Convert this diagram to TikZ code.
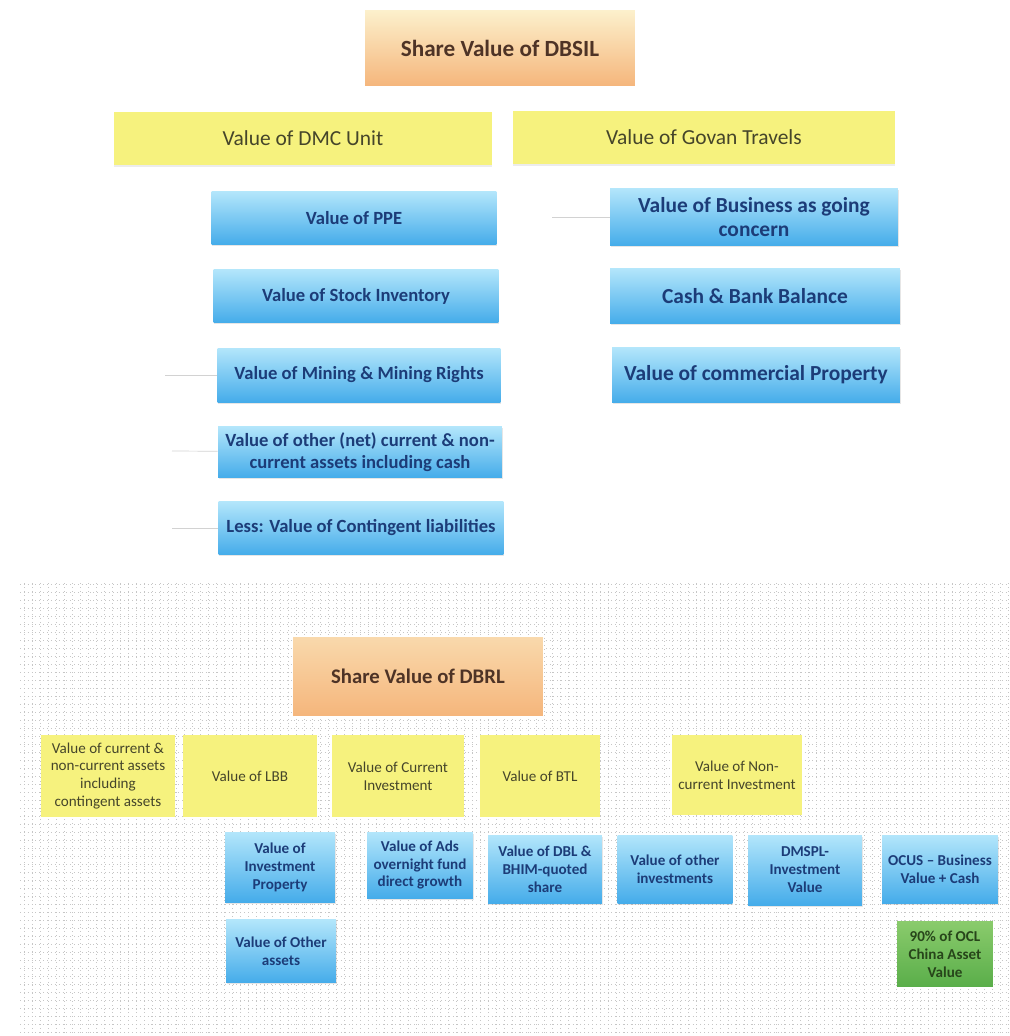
\documentclass[tikz,border=0pt]{standalone}
\usepackage{fontspec}
\setmainfont{Carlito}
\usetikzlibrary{shadows}

\definecolor{bluetop}{HTML}{B3E6FB}
\definecolor{bluebot}{HTML}{45ACEA}
\definecolor{bluetxt}{HTML}{1C3C78}
\definecolor{ylwbox}{HTML}{F6F27E}
\definecolor{ylwtxt}{HTML}{45452A}
\definecolor{orgtop}{HTML}{FCF0CC}
\definecolor{orgbot}{HTML}{F5B67C}
\definecolor{orgtxt}{HTML}{4E3326}
\definecolor{grntop}{HTML}{8ACB6C}
\definecolor{grnbot}{HTML}{5AAE4A}
\definecolor{grntxt}{HTML}{27451A}

\begin{document}
\begin{tikzpicture}[x=0.02cm,y=-0.02cm,
    every node/.style={align=center,inner sep=2pt},
    sharebox/.style={top color=orgtop,bottom color=orgbot,text=orgtxt,
        font=\fontsize{13.2}{15}\selectfont\bfseries},
    unitbox/.style={fill=ylwbox,text=ylwtxt,
        drop shadow={opacity=0.15,shadow xshift=0pt,shadow yshift=-1.5pt}},
    assetbox/.style={top color=bluetop,bottom color=bluebot,text=bluetxt,
        drop shadow={opacity=0.2,shadow xshift=0.5pt,shadow yshift=-1pt}},
    greenbox/.style={top color=grntop,bottom color=grnbot,text=grntxt},
    link/.style={gray!35,thin}]

    \useasboundingbox (0,0) rectangle (1010,1036);

    % Top tree: DBSIL
    \node[sharebox,minimum width=5.4cm,minimum height=1.5cm] (dbsil) at (500,48) {Share Value of DBSIL};

    \begin{scope}[font=\fontsize{12.2}{14}\selectfont]
    \node[unitbox,minimum width=7.55cm,minimum height=1.06cm] (dmc) at (303,138) {Value of DMC Unit};
    \node[unitbox,minimum width=7.65cm,minimum height=1.06cm] (govan) at (704,137) {Value of Govan Travels};
    \end{scope}

    % left column
    \begin{scope}[font=\fontsize{10.6}{12.5}\selectfont\bfseries]
    \node[assetbox,minimum width=5.7cm,minimum height=1.06cm] (ppe) at (354,218) {Value of PPE};
    \node[assetbox,minimum width=5.7cm,minimum height=1.06cm] (stock) at (356,296) {Value of Stock Inventory};
    \node[assetbox,minimum width=5.66cm,minimum height=1.08cm] (mining) at (359,375) {Value of Mining \& Mining Rights};
    \node[assetbox,minimum width=5.68cm,minimum height=1.02cm] (other) at (360,452)
        {Value of other (net) current \& non-\\current assets including cash};
    \node[assetbox,minimum width=5.7cm,minimum height=1.06cm] (less) at (361,528) {Less: Value of Contingent liabilities};
    \end{scope}

    % right column
    \begin{scope}[font=\fontsize{12.2}{14}\selectfont\bfseries]
    \node[assetbox,minimum width=5.76cm,minimum height=1.14cm] (business) at (754,217)
        {Value of Business as going\\concern};
    \node[assetbox,minimum width=5.8cm,minimum height=1.1cm] (cash) at (755,296) {Cash \& Bank Balance};
    \node[assetbox,minimum width=5.76cm,minimum height=1.1cm] (commercial) at (756,375) {Value of commercial Property};
    \end{scope}

    % faint leader lines
    \foreach \n/\x/\y in {mining/165/375,other/172/451,less/172/528,business/552/217} {
        \coordinate (\n-in) at (\x,\y);
        \draw[link] (\n-in) -- (\n);
    }

    % Bottom tree: DBRL on a dotted grid
    \draw[gray!45,dotted,very thin,step=0.16cm] (20,580) grid (1010,1036);

    \node[sharebox,top color=orgtop!60!orgbot,minimum width=5.0cm,minimum height=1.56cm,
        font=\fontsize{11.8}{14}\selectfont\bfseries] (dbrl) at (418,676) {Share Value of DBRL};

    \begin{scope}[font=\fontsize{8.6}{10.2}\selectfont]
    \node[fill=ylwbox,text=ylwtxt,minimum width=2.7cm,minimum height=1.64cm] (curassets) at (108,776)
        {Value of current \&\\non-current assets\\including\\contingent assets};
    \node[fill=ylwbox,text=ylwtxt,minimum width=2.68cm,minimum height=1.64cm] (lbb) at (250,776) {Value of LBB};
    \node[fill=ylwbox,text=ylwtxt,minimum width=2.66cm,minimum height=1.64cm] (curinv) at (398,776)
        {Value of Current\\Investment};
    \node[fill=ylwbox,text=ylwtxt,minimum width=2.4cm,minimum height=1.64cm] (btl) at (540,776) {Value of BTL};
    \node[fill=ylwbox,text=ylwtxt,minimum width=2.62cm,minimum height=1.6cm] (noncurinv) at (737,775)
        {Value of Non-\\current Investment};
    \end{scope}

    \begin{scope}[font=\fontsize{8.6}{10.2}\selectfont\bfseries]
    \node[assetbox,minimum width=2.2cm,minimum height=1.4cm] (invprop) at (280,867)
        {Value of\\Investment\\Property};
    \node[assetbox,minimum width=2.12cm,minimum height=1.32cm] (ads) at (420,865)
        {Value of Ads\\overnight fund\\direct growth};
    \node[assetbox,minimum width=2.28cm,minimum height=1.36cm] (dbl) at (545,869)
        {Value of DBL \&\\BHIM-quoted\\share};
    \node[assetbox,minimum width=2.3cm,minimum height=1.36cm] (othinv) at (675,869)
        {Value of other\\investments};
    \node[assetbox,minimum width=2.28cm,minimum height=1.4cm] (dmspl) at (805,870)
        {DMSPL-\\Investment\\Value};
    \node[assetbox,minimum width=2.32cm,minimum height=1.36cm] (ocus) at (940,869)
        {OCUS -- Business\\Value + Cash};
    \node[assetbox,minimum width=2.2cm,minimum height=1.26cm] (othassets) at (281,951)
        {Value of Other\\assets};
    \node[greenbox,minimum width=1.92cm,minimum height=1.3cm] (china) at (945,954)
        {90\% of OCL\\China Asset\\Value};
    \end{scope}
\end{tikzpicture}
\end{document}
